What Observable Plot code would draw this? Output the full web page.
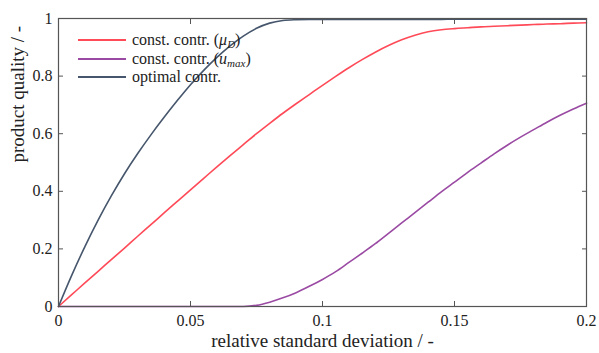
<!DOCTYPE html>
<html>
<head>
<meta charset="utf-8">
<script src="https://cdn.jsdelivr.net/npm/d3@7"></script>
<script src="https://cdn.jsdelivr.net/npm/@observablehq/plot@0.6"></script>
<style>
  body { margin: 0; background: #fff; }
  #chart { position: relative; width: 599px; height: 353px; }
  .legend {
    position: absolute; left: 78px; top: 31px;
    font-family: 'Liberation Serif'; font-size: 16px; color: #222;
  }
  .legend .row { display: flex; align-items: center; height: 18.5px; white-space: nowrap; }
  .legend .swatch { width: 48px; height: 0; border-top: 2px solid; margin-right: 6px; }
  .legend sub { font-size: 11px; vertical-align: -3px; line-height: 0; }
</style>
</head>
<body>
<div id="chart"></div>
<script>
// relative standard deviation (x) and product quality of each control strategy
const deviation = [0, 0.005, 0.01, 0.015, 0.02, 0.025, 0.03, 0.035, 0.04, 0.045,
  0.05, 0.055, 0.06, 0.065, 0.07, 0.075, 0.08, 0.085, 0.09, 0.095,
  0.1, 0.105, 0.11, 0.115, 0.12, 0.125, 0.13, 0.135, 0.14, 0.145,
  0.15, 0.155, 0.16, 0.165, 0.17, 0.175, 0.18, 0.185, 0.19, 0.195, 0.2];

const qualityMuD = [0, 0.041, 0.082, 0.122, 0.163, 0.203, 0.244, 0.284, 0.325, 0.365,
  0.405, 0.445, 0.485, 0.524, 0.562, 0.6, 0.636, 0.671, 0.704, 0.736,
  0.768, 0.799, 0.829, 0.857, 0.883, 0.906, 0.926, 0.942, 0.954, 0.961,
  0.965, 0.968, 0.971, 0.973, 0.975, 0.977, 0.979, 0.981, 0.982, 0.984, 0.985];

const qualityUmax = [0, 0, 0, 0, 0, 0, 0, 0, 0, 0,
  0, 0, 0, 0, 0, 0.004, 0.015, 0.03, 0.048, 0.07,
  0.094, 0.121, 0.153, 0.185, 0.218, 0.254, 0.29, 0.326, 0.362, 0.398,
  0.432, 0.466, 0.498, 0.53, 0.56, 0.588, 0.614, 0.64, 0.664, 0.686, 0.706];

const qualityOptimal = [0, 0.108, 0.208, 0.3, 0.384, 0.461, 0.531, 0.596, 0.657, 0.715,
  0.77, 0.82, 0.865, 0.905, 0.939, 0.966, 0.984, 0.993, 0.996, 0.997,
  0.997, 0.997, 0.997, 0.997, 0.997, 0.997, 0.997, 0.997, 0.997, 0.997,
  0.998, 0.998, 0.998, 0.998, 0.998, 0.998, 0.998, 0.998, 0.998, 0.998, 0.998];

const seriesKeys = ["muD", "umax", "optimal"];
const seriesColors = ["#ff4a58", "#9a4aa3", "#46566c"];
const xTicks = [0, 0.05, 0.1, 0.15, 0.2];
const yTicks = [0, 0.2, 0.4, 0.6, 0.8, 1];

const seriesValues = { muD: qualityMuD, umax: qualityUmax, optimal: qualityOptimal };
const rows = seriesKeys.flatMap(key =>
  deviation.map((x, i) => ({ series: key, x, y: seriesValues[key][i] })));

const frameColor = "#555";
const fmt = d => String(d);
const serif = "'Liberation Serif'";

const svg = Plot.plot({
  width: 599,
  height: 353,
  marginLeft: 58,
  marginRight: 13,
  marginTop: 18,
  marginBottom: 47,
  style: { fontSize: "16px", color: "#222", background: "#fff" },
  x: { domain: [0, 0.2] },
  y: { domain: [0, 1] },
  color: { domain: seriesKeys, range: seriesColors },
  marks: [
    Plot.line(rows, { x: "x", y: "y", z: "series", stroke: "series", strokeWidth: 1.6, curve: "monotone-x" }),
    Plot.frame({ stroke: frameColor, strokeWidth: 1.2 }),
    Plot.axisX(xTicks, { anchor: "bottom", tickSize: -5, tickPadding: 13, tickFormat: fmt, label: null, stroke: frameColor }),
    Plot.axisX(xTicks, { anchor: "top", tickSize: -5, tickFormat: () => "", label: null, stroke: frameColor }),
    Plot.axisY(yTicks, { anchor: "left", tickSize: -5, tickPadding: 11, tickFormat: fmt, label: null, stroke: frameColor }),
    Plot.axisY(yTicks, { anchor: "right", tickSize: -5, tickFormat: () => "", label: null, stroke: frameColor }),
    Plot.text(["relative standard deviation / -"], { frameAnchor: "bottom", dy: 40, fontSize: 19, fill: "#222" }),
    Plot.text(["product quality / -"], { frameAnchor: "left", dx: -41, rotate: -90, fontSize: 19, fill: "#222" })
  ]
});

// serif typeface on every text element of the chart
svg.style.fontFamily = serif;
d3.select(svg).selectAll("text").style("font-family", serif);

const chart = document.getElementById("chart");
chart.appendChild(svg);

// legend in the upper left corner of the plot area
const legend = document.createElement("div");
legend.className = "legend";
const labels = [
  'const. contr. (<i>μ</i><sub><i>D</i></sub>)',
  'const. contr. (<i>u</i><sub><i>max</i></sub>)',
  'optimal contr.'
];
labels.forEach((html, i) => {
  const row = document.createElement("div");
  row.className = "row";
  const sw = document.createElement("span");
  sw.className = "swatch";
  sw.style.borderColor = seriesColors[i];
  const tx = document.createElement("span");
  tx.innerHTML = html;
  row.append(sw, tx);
  legend.appendChild(row);
});
chart.appendChild(legend);
</script>
</body>
</html>
